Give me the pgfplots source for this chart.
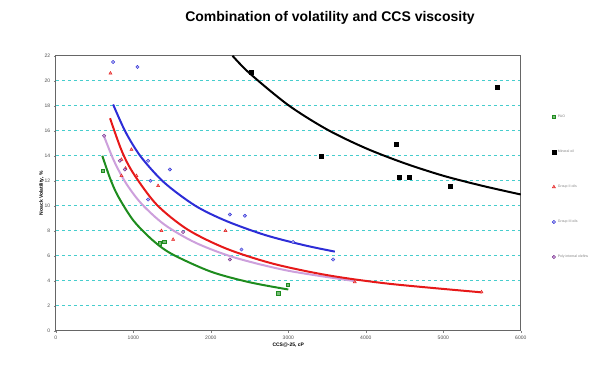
\documentclass[border=0pt]{standalone}
\usepackage{fontspec}
\setmainfont{Liberation Sans}
\usepackage{pgfplots}
\pgfplotsset{compat=1.18}
\definecolor{cgreen}{RGB}{30,140,30}
\definecolor{cred}{RGB}{230,25,25}
\definecolor{cblue}{RGB}{45,45,215}
\definecolor{cpurp}{RGB}{205,160,220}
\definecolor{cpurpm}{RGB}{110,40,130}
\definecolor{cgrid}{RGB}{70,205,205}
\begin{document}
\begin{tikzpicture}[x=1pt,y=1pt]
\useasboundingbox (0,0) rectangle (604,372);
\node[font=\bfseries\fontsize{14}{16}\selectfont] at (330,354) {Combination of volatility and CCS viscosity};
\begin{axis}[
  at={(72,33)}, anchor=origin,
  scale only axis, width=465pt, height=275pt,
  xmin=0, xmax=6000, ymin=0, ymax=22,
  xtick={0,1000,...,6000}, ytick={0,2,...,22},
  /pgf/number format/assume math mode=true,
  /pgf/number format/1000 sep={},
  tick label style={font=\fontsize{5}{6}\selectfont, text=black!70},
  tick align=outside, tick pos=left,
  major tick length=2pt,
  ymajorgrids, grid style={cgrid, dashed, line width=1pt},
  axis line style={black!60, line width=1.2pt},
  xlabel={CCS@-25, cP}, ylabel={Noack Volatility, \%},
  label style={font=\bfseries\fontsize{5}{6}\selectfont},
  xlabel style={yshift=4pt}, ylabel style={yshift=-6pt},
  legend style={at={(1.06,0.80)}, anchor=north west, draw=none, fill=none,
    font=\fontsize{3.5}{4}\selectfont, row sep=27pt, text=black!50},
  legend cell align=left,
]
% scatter points
\addplot[only marks, mark=square*, mark size=1.7pt, color=cgreen, mark options={fill=cgreen!60}] coordinates {
 (602,12.8) (1342,7.0) (1400,7.1) (2868,3.0) (2994,3.7)};
\addlegendentry{PAO}
\addplot[only marks, mark=square*, mark size=2pt, color=black] coordinates {
 (2517,20.7) (3428,14.0) (4396,14.9) (4430,12.3) (4555,12.3) (5093,11.6) (5695,19.5)};
\addlegendentry{Mineral oil}
\addplot[only marks, mark=triangle*, mark size=1.8pt, color=cred, mark options={fill=cred!50}] coordinates {
 (705,20.6) (976,14.5) (847,13.7) (1041,12.4) (847,12.4) (1320,11.6) (1363,8.0) (1514,7.3) (2189,8.0) (3858,3.9) (5493,3.1) (900,13.0)};
\addlegendentry{Group II oils}
\addplot[only marks, mark=*, mark size=1.7pt, color=cblue, mark options={fill=cblue!40}] coordinates {
 (740,21.5) (1054,21.1) (1191,13.6) (1471,12.9) (1222,12.0) (1191,10.5) (2245,9.3) (2439,9.2) (2396,6.5) (3062,7.1) (3578,5.7)};
\addlegendentry{Group III oils}
\addplot[only marks, mark=*, mark size=1.7pt, color=cpurpm, mark options={fill=cpurp}] coordinates {
 (624,15.6) (826,13.6) (890,12.9) (1643,7.9) (2245,5.7)};
\addlegendentry{Poly internal olefins}
% trend lines
\addplot[smooth, no marks, cgreen, line width=2pt, forget plot] coordinates {
 (600,14.0) (700,12.2) (800,10.8) (1000,8.83) (1250,7.24) (1500,6.13) (2000,4.73) (2500,3.88) (3000,3.30)};
\addplot[smooth, no marks, black, line width=2pt, forget plot] coordinates {
 (2280,22.0) (2500,20.6) (3000,18.05) (3500,16.1) (4000,14.6) (4500,13.4) (5000,12.4) (5500,11.6) (6000,10.9)};
\addplot[smooth, no marks, cpurp, line width=2pt, forget plot] coordinates {
 (620,15.6) (750,13.6) (900,11.86) (1100,10.2) (1400,8.5) (1800,7.05) (2300,5.87) (3000,4.8) (3850,3.98)};
\addplot[smooth, no marks, cred, line width=2pt, forget plot] coordinates {
 (700,17.0) (850,14.4) (1000,12.6) (1300,10.1) (1700,8.1) (2200,6.57) (2800,5.37) (3500,4.45) (4300,3.76) (5500,3.07)};
\addplot[smooth, no marks, cblue, line width=2pt, forget plot] coordinates {
 (740,18.1) (900,15.9) (1100,13.9) (1400,11.85) (1800,10.0) (2200,8.78) (2700,7.66) (3200,6.85) (3600,6.33)};
\end{axis}
\end{tikzpicture}
\end{document}
